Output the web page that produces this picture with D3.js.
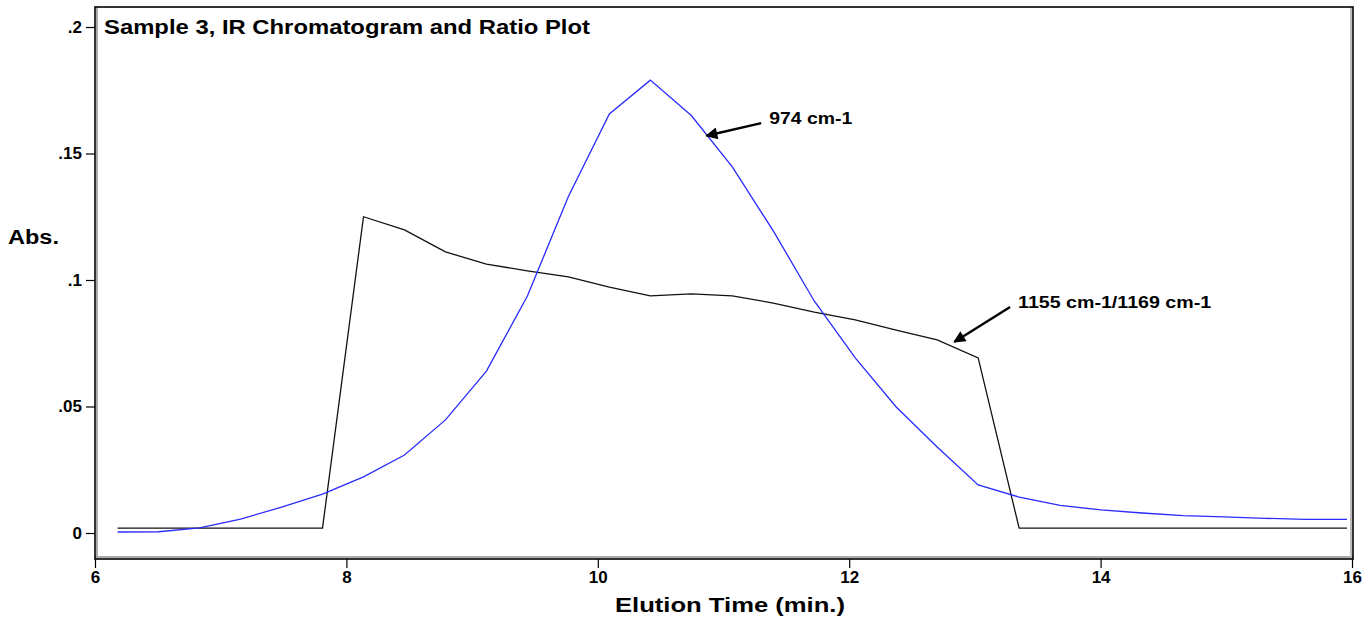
<!DOCTYPE html>
<html>
<head>
<meta charset="utf-8">
<script src="https://cdn.jsdelivr.net/npm/d3@7"></script>
<style>
  body { margin: 0; background: #fff; }
  svg text { font-family: "Liberation Sans", Arial, sans-serif; font-weight: bold; fill: #000; }
</style>
</head>
<body>
<svg id="canvas" width="1372" height="618"></svg>
<script>
// elution times (min.), one scan every ~0.33 min
const times = [6.18, 6.506, 6.832, 7.158, 7.484, 7.81, 8.136, 8.462, 8.788, 9.114,
  9.44, 9.766, 10.092, 10.418, 10.744, 11.07, 11.396, 11.722, 12.048, 12.374,
  12.70, 13.026, 13.352, 13.678, 14.004, 14.33, 14.656, 14.982, 15.308, 15.634, 15.96];

// 974 cm-1 absorbance (blue)
const abs974 = [0.0004, 0.0005, 0.0020, 0.0055, 0.0102, 0.0154, 0.0222, 0.0308, 0.0447, 0.0640,
  0.0937, 0.1330, 0.1656, 0.1790, 0.1650, 0.1447, 0.1194, 0.0917, 0.0692, 0.0498,
  0.0340, 0.0190, 0.0142, 0.0109, 0.0091, 0.0079, 0.0069, 0.0064, 0.0058, 0.0054, 0.0054];

// 1155 cm-1 / 1169 cm-1 ratio (black)
const ratio = [0.0019, 0.0019, 0.0019, 0.0019, 0.0019, 0.0019, 0.1250, 0.1198, 0.1111, 0.1063,
  0.1036, 0.1012, 0.0972, 0.0937, 0.0945, 0.0937, 0.0909, 0.0873, 0.0842, 0.0802,
  0.0763, 0.0692, 0.0019, 0.0019, 0.0019, 0.0019, 0.0019, 0.0019, 0.0019, 0.0019, 0.0019];

const xTicks = [6, 8, 10, 12, 14, 16];
const yTicks = [0, 0.05, 0.1, 0.15, 0.2];
const yTickLabels = ["0", ".05", ".1", ".15", ".2"];

// annotation arrows: label, tail [t, abs], tip [t, abs]
const labels = ["974 cm-1", "1155 cm-1/1169 cm-1"];
const arrowTails = [[11.30, 0.162], [13.28, 0.0893]];
const arrowTips = [[10.865, 0.157], [12.836, 0.0755]];

const svg = d3.select("#canvas");

const frame = { left: 95, top: 7, right: 1353, bottom: 559 };

const x = d3.scaleLinear().domain([6, 16]).range([95, 1352]);
const y = d3.scaleLinear().domain([0, 0.2]).range([533, 27]);

// arrow head
svg.append("defs").append("marker")
    .attr("id", "head")
    .attr("viewBox", "0 0 10 10")
    .attr("refX", 9).attr("refY", 5)
    .attr("markerWidth", 6).attr("markerHeight", 5)
    .attr("markerUnits", "strokeWidth")
    .attr("orient", "auto")
  .append("path")
    .attr("d", "M0,0 L10,5 L0,10 Z")
    .attr("fill", "#000");

// frame with the grey inner shadow
svg.append("line").attr("x1", frame.left + 2).attr("x2", frame.left + 2)
    .attr("y1", frame.top).attr("y2", frame.bottom)
    .attr("stroke", "#aaa").attr("stroke-width", 2);
svg.append("line").attr("x1", frame.left).attr("x2", frame.right)
    .attr("y1", frame.bottom - 2).attr("y2", frame.bottom - 2)
    .attr("stroke", "#aaa").attr("stroke-width", 2);
svg.append("line").attr("x1", frame.right - 2).attr("x2", frame.right - 2)
    .attr("y1", frame.top).attr("y2", frame.bottom)
    .attr("stroke", "#bbb").attr("stroke-width", 2);
svg.append("rect")
    .attr("x", frame.left).attr("y", frame.top)
    .attr("width", frame.right - frame.left).attr("height", frame.bottom - frame.top)
    .attr("fill", "none").attr("stroke", "#000").attr("stroke-width", 1.6);

// axes
const xAxis = svg.append("g")
    .attr("transform", "translate(0," + frame.bottom + ")")
    .call(d3.axisBottom(x).tickValues(xTicks).tickSize(9).tickPadding(3).tickFormat(d3.format("d")));
xAxis.select(".domain").remove();
xAxis.selectAll("line").attr("stroke", "#000").attr("stroke-width", 1.2);
xAxis.selectAll("text").style("font-size", "17px").attr("fill", "#000");

const yAxis = svg.append("g")
    .attr("transform", "translate(" + frame.left + ",0)")
    .call(d3.axisLeft(y).tickValues(yTicks).tickSize(9).tickPadding(4)
      .tickFormat((d, i) => yTickLabels[i]));
yAxis.select(".domain").remove();
yAxis.selectAll("line").attr("stroke", "#000").attr("stroke-width", 1.2);
yAxis.selectAll("text").style("font-size", "17px").attr("fill", "#000");

// series
const line = series => d3.line()
    .x((d, i) => x(times[i]))
    .y(d => y(d))(series);

svg.append("path")
    .attr("d", line(ratio))
    .attr("fill", "none")
    .attr("stroke", "#111")
    .attr("stroke-width", 1.3);

svg.append("path")
    .attr("d", line(abs974))
    .attr("fill", "none")
    .attr("stroke", "#2a2aff")
    .attr("stroke-width", 1.3);

// annotations (the original font is wide, so stretch to its measured widths)
const labelWidths = [83, 193];
labels.forEach(function(lab, i) {
  svg.append("line")
      .attr("x1", x(arrowTails[i][0])).attr("y1", y(arrowTails[i][1]))
      .attr("x2", x(arrowTips[i][0])).attr("y2", y(arrowTips[i][1]))
      .attr("stroke", "#000").attr("stroke-width", 2.4)
      .attr("marker-end", "url(#head)");
  svg.append("text")
      .attr("x", x(arrowTails[i][0]) + 8)
      .attr("y", y(arrowTails[i][1]) + 0.5)
      .attr("textLength", labelWidths[i])
      .attr("lengthAdjust", "spacingAndGlyphs")
      .style("font-size", "17px")
      .text(lab);
});

// titles
svg.append("text")
    .attr("x", 104).attr("y", 34)
    .attr("textLength", 486)
    .attr("lengthAdjust", "spacingAndGlyphs")
    .style("font-size", "19.5px")
    .text("Sample 3, IR Chromatogram and Ratio Plot");

svg.append("text")
    .attr("x", 8).attr("y", 244)
    .attr("textLength", 51)
    .attr("lengthAdjust", "spacingAndGlyphs")
    .style("font-size", "20px")
    .text("Abs.");

svg.append("text")
    .attr("x", 615).attr("y", 612)
    .attr("textLength", 230)
    .attr("lengthAdjust", "spacingAndGlyphs")
    .style("font-size", "21px")
    .text("Elution Time (min.)");
</script>
</body>
</html>
